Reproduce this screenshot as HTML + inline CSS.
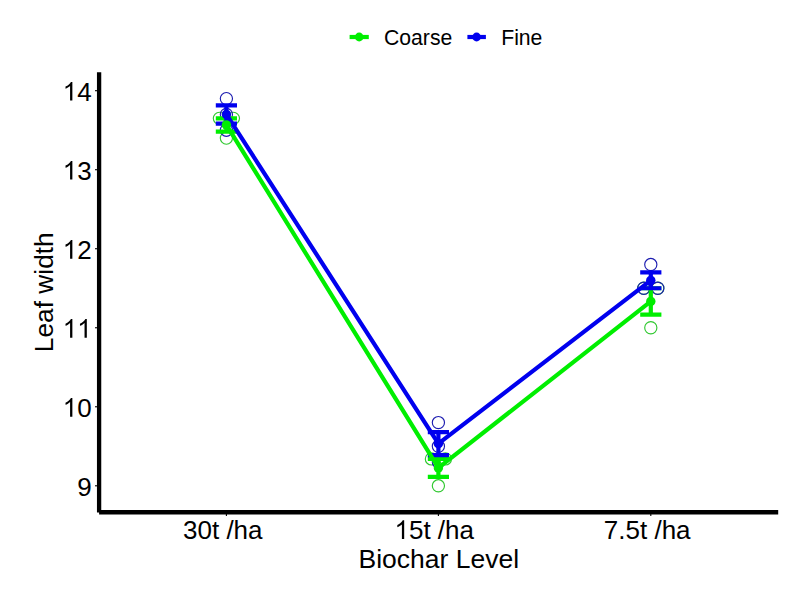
<!DOCTYPE html><html><head><meta charset="utf-8"><style>html,body{margin:0;padding:0;background:#fff;}svg{display:block;}text{font-family:"Liberation Sans",sans-serif;fill:#000;}</style></head><body>
<svg width="811" height="599" viewBox="0 0 811 599">
<rect width="811" height="599" fill="#fff"/>
<line x1="349.6" y1="37" x2="368.8" y2="37" stroke="#00EE00" stroke-width="4.2"/>
<circle cx="359.2" cy="37" r="4.4" fill="#00EE00"/>
<text x="384" y="44.8" font-size="21.2">Coarse</text>
<line x1="467.4" y1="37" x2="485.9" y2="37" stroke="#0000EE" stroke-width="4.2"/>
<circle cx="476.6" cy="37" r="4.4" fill="#0000EE"/>
<text x="501.2" y="44.8" font-size="21.2">Fine</text>
<line x1="99.1" y1="72.2" x2="99.1" y2="512.5" stroke="#000" stroke-width="4.3"/>
<line x1="99.1" y1="512.3" x2="778.2" y2="512.3" stroke="#000" stroke-width="4.6"/>
<line x1="95" y1="485.80" x2="99" y2="485.80" stroke="#000" stroke-width="1.1"/>
<text x="77.14" y="495.70" font-size="26" style="white-space:pre">9</text>
<line x1="95" y1="406.78" x2="99" y2="406.78" stroke="#000" stroke-width="1.1"/>
<path d="M763 0L583 0L583 1147Q518 1085 412 1023Q306 961 223 930L223 1104Q375 1175 489 1276Q603 1377 650 1472L763 1472Z" transform="translate(62.68,416.68) scale(0.012695,-0.012695)" fill="#000"/><text x="77.14" y="416.68" font-size="26" style="white-space:pre">0</text>
<line x1="95" y1="327.76" x2="99" y2="327.76" stroke="#000" stroke-width="1.1"/>
<path d="M763 0L583 0L583 1147Q518 1085 412 1023Q306 961 223 930L223 1104Q375 1175 489 1276Q603 1377 650 1472L763 1472Z" transform="translate(62.68,337.66) scale(0.012695,-0.012695)" fill="#000"/><path d="M763 0L583 0L583 1147Q518 1085 412 1023Q306 961 223 930L223 1104Q375 1175 489 1276Q603 1377 650 1472L763 1472Z" transform="translate(77.14,337.66) scale(0.012695,-0.012695)" fill="#000"/>
<line x1="95" y1="248.74" x2="99" y2="248.74" stroke="#000" stroke-width="1.1"/>
<path d="M763 0L583 0L583 1147Q518 1085 412 1023Q306 961 223 930L223 1104Q375 1175 489 1276Q603 1377 650 1472L763 1472Z" transform="translate(62.68,258.64) scale(0.012695,-0.012695)" fill="#000"/><text x="77.14" y="258.64" font-size="26" style="white-space:pre">2</text>
<line x1="95" y1="169.72" x2="99" y2="169.72" stroke="#000" stroke-width="1.1"/>
<path d="M763 0L583 0L583 1147Q518 1085 412 1023Q306 961 223 930L223 1104Q375 1175 489 1276Q603 1377 650 1472L763 1472Z" transform="translate(62.68,179.62) scale(0.012695,-0.012695)" fill="#000"/><text x="77.14" y="179.62" font-size="26" style="white-space:pre">3</text>
<line x1="95" y1="90.70" x2="99" y2="90.70" stroke="#000" stroke-width="1.1"/>
<path d="M763 0L583 0L583 1147Q518 1085 412 1023Q306 961 223 930L223 1104Q375 1175 489 1276Q603 1377 650 1472L763 1472Z" transform="translate(62.68,100.60) scale(0.012695,-0.012695)" fill="#000"/><text x="77.14" y="100.60" font-size="26" style="white-space:pre">4</text>
<line x1="226.4" y1="512.3" x2="226.4" y2="516" stroke="#000" stroke-width="1.1"/>
<text x="226.4" y="539" font-size="26" text-anchor="middle" xml:space="preserve" style="white-space:pre">30t /ha </text>
<line x1="438.4" y1="512.3" x2="438.4" y2="516" stroke="#000" stroke-width="1.1"/>
<path d="M763 0L583 0L583 1147Q518 1085 412 1023Q306 961 223 930L223 1104Q375 1175 489 1276Q603 1377 650 1472L763 1472Z" transform="translate(394.50,539.00) scale(0.012695,-0.012695)" fill="#000"/><text x="408.96" y="539.00" font-size="26" style="white-space:pre">5t /ha</text>
<line x1="650.8" y1="512.3" x2="650.8" y2="516" stroke="#000" stroke-width="1.1"/>
<text x="650.8" y="539" font-size="26" text-anchor="middle" xml:space="preserve" style="white-space:pre">7.5t /ha </text>
<text x="438.8" y="567.6" font-size="26.5" text-anchor="middle">Biochar Level</text>
<text transform="translate(53.2,292.25) rotate(-90)" x="0" y="0" font-size="26.3" text-anchor="middle">Leaf width</text>
<circle cx="219.40" cy="118.36" r="6.1" fill="none" stroke="#30c830" stroke-width="1.15"/>
<circle cx="233.40" cy="118.36" r="6.1" fill="none" stroke="#30c830" stroke-width="1.15"/>
<circle cx="226.40" cy="138.11" r="6.1" fill="none" stroke="#30c830" stroke-width="1.15"/>
<circle cx="431.40" cy="458.93" r="6.1" fill="none" stroke="#30c830" stroke-width="1.15"/>
<circle cx="445.40" cy="458.93" r="6.1" fill="none" stroke="#30c830" stroke-width="1.15"/>
<circle cx="438.40" cy="485.80" r="6.1" fill="none" stroke="#30c830" stroke-width="1.15"/>
<circle cx="643.80" cy="288.25" r="6.1" fill="none" stroke="#30c830" stroke-width="1.15"/>
<circle cx="657.80" cy="288.25" r="6.1" fill="none" stroke="#30c830" stroke-width="1.15"/>
<circle cx="650.80" cy="327.76" r="6.1" fill="none" stroke="#30c830" stroke-width="1.15"/>
<circle cx="226.40" cy="98.60" r="6.1" fill="none" stroke="#1c1cb0" stroke-width="1.15"/>
<circle cx="226.40" cy="114.41" r="6.1" fill="none" stroke="#1c1cb0" stroke-width="1.15"/>
<circle cx="226.40" cy="130.21" r="6.1" fill="none" stroke="#1c1cb0" stroke-width="1.15"/>
<circle cx="438.40" cy="422.58" r="6.1" fill="none" stroke="#1c1cb0" stroke-width="1.15"/>
<circle cx="438.40" cy="446.29" r="6.1" fill="none" stroke="#1c1cb0" stroke-width="1.15"/>
<circle cx="438.40" cy="462.09" r="6.1" fill="none" stroke="#1c1cb0" stroke-width="1.15"/>
<circle cx="650.80" cy="264.54" r="6.1" fill="none" stroke="#1c1cb0" stroke-width="1.15"/>
<circle cx="643.80" cy="288.25" r="6.1" fill="none" stroke="#1c1cb0" stroke-width="1.15"/>
<circle cx="657.80" cy="288.25" r="6.1" fill="none" stroke="#1c1cb0" stroke-width="1.15"/>
<path d="M215.80 118.36H237.00M226.40 118.36V131.53M215.80 131.53H237.00" fill="none" stroke="#00EE00" stroke-width="4.2"/>
<path d="M427.80 458.93H449.00M438.40 458.93V476.84M427.80 476.84H449.00" fill="none" stroke="#00EE00" stroke-width="4.2"/>
<path d="M640.20 288.25H661.40M650.80 288.25V314.59M640.20 314.59H661.40" fill="none" stroke="#00EE00" stroke-width="4.2"/>
<path d="M215.80 105.28H237.00M226.40 105.28V123.53M215.80 123.53H237.00" fill="none" stroke="#0000EE" stroke-width="4.2"/>
<path d="M427.80 432.17H449.00M438.40 432.17V455.14M427.80 455.14H449.00" fill="none" stroke="#0000EE" stroke-width="4.2"/>
<path d="M640.20 272.45H661.40M650.80 272.45V288.25M640.20 288.25H661.40" fill="none" stroke="#0000EE" stroke-width="4.2"/>
<polyline points="226.40,124.94 438.40,467.89 650.80,301.42" fill="none" stroke="#00EE00" stroke-width="4.2" stroke-linejoin="round"/>
<polyline points="226.40,114.41 438.40,443.66 650.80,280.35" fill="none" stroke="#0000EE" stroke-width="4.2" stroke-linejoin="round"/>
<circle cx="226.40" cy="124.94" r="4.7" fill="#00EE00"/>
<circle cx="438.40" cy="467.89" r="4.7" fill="#00EE00"/>
<circle cx="650.80" cy="301.42" r="4.7" fill="#00EE00"/>
<circle cx="226.40" cy="114.41" r="4.7" fill="#0000EE"/>
<circle cx="438.40" cy="443.66" r="4.7" fill="#0000EE"/>
<circle cx="650.80" cy="280.35" r="4.7" fill="#0000EE"/>
</svg></body></html>
